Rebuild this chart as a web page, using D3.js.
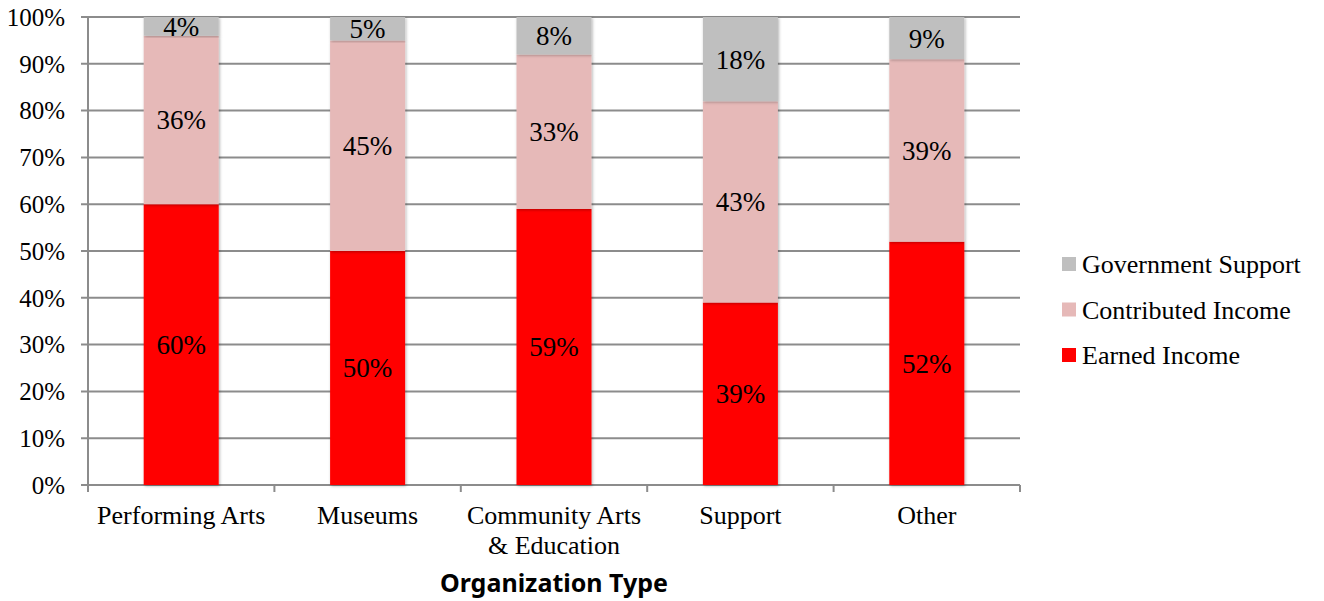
<!DOCTYPE html>
<html>
<head>
<meta charset="utf-8">
<script src="https://cdn.jsdelivr.net/npm/d3@7"></script>
<style>
  body { margin: 0; background: #fff; }
  text { fill: #000; }
</style>
</head>
<body>
<div id="chart"></div>
<script>
const categories = [["Performing Arts"], ["Museums"], ["Community Arts", "& Education"], ["Support"], ["Other"]];
const seriesNames = ["Earned Income", "Contributed Income", "Government Support"];
const earned = [60, 50, 59, 39, 52];
const contributed = [36, 45, 33, 43, 39];
const government = [4, 5, 8, 18, 9];
const yTicks = [0, 10, 20, 30, 40, 50, 60, 70, 80, 90, 100];
const colors = ["#ff0000", "#e6b9b8", "#bfbfbf"];

const width = 1324, height = 601;
const margin = {top: 17, right: 304, bottom: 116, left: 88};
const serif = "'Liberation Serif', 'DejaVu Serif', serif";

const svg = d3.select("#chart").append("svg")
    .attr("width", width)
    .attr("height", height);

const defs = svg.append("defs");
const shadow = defs.append("filter").attr("id", "shadow")
    .attr("x", "-10%").attr("y", "-10%").attr("width", "120%").attr("height", "120%");
shadow.append("feDropShadow")
    .attr("dx", 1).attr("dy", 1).attr("stdDeviation", 1.5)
    .attr("flood-color", "#000").attr("flood-opacity", 0.3);

const y = d3.scaleLinear()
    .domain([0, 100])
    .range([height - margin.bottom, margin.top]);

// gridlines
svg.append("g")
    .selectAll("line")
    .data(yTicks)
    .enter().append("line")
    .attr("x1", margin.left - 7)
    .attr("x2", width - margin.right)
    .attr("y1", d => y(d))
    .attr("y2", d => y(d))
    .style("stroke", "#8c8c8c")
    .style("stroke-width", 2);

// y axis line
svg.append("line")
    .attr("x1", margin.left).attr("x2", margin.left)
    .attr("y1", y(100)).attr("y2", y(0) + 7)
    .style("stroke", "#8c8c8c").style("stroke-width", 2);

// bottom ticks at category boundaries
const step = (width - margin.right - margin.left) / categories.length;
svg.append("g")
    .selectAll("line")
    .data(d3.range(categories.length + 1))
    .enter().append("line")
    .attr("x1", d => margin.left + d * step)
    .attr("x2", d => margin.left + d * step)
    .attr("y1", y(0))
    .attr("y2", y(0) + 7)
    .style("stroke", "#8c8c8c").style("stroke-width", 2);

// y tick labels
svg.append("g")
    .selectAll("text")
    .data(yTicks)
    .enter().append("text")
    .attr("x", margin.left - 23)
    .attr("y", d => y(d))
    .attr("dy", "0.35em")
    .attr("text-anchor", "end")
    .style("font-family", serif)
    .style("font-size", "25px")
    .text(d => d + "%");

// stack
const rows = categories.map((c, i) => ({
  i: i,
  "Earned Income": earned[i],
  "Contributed Income": contributed[i],
  "Government Support": government[i]
}));
const stacked = d3.stack().keys(seriesNames)(rows);

const bandX = i => margin.left + i * step + (step - 75) / 2;

const layers = svg.append("g").selectAll("g")
    .data(stacked)
    .enter().append("g")
    .style("fill", (d, k) => colors[k]);

layers.selectAll("rect")
    .data(d => d)
    .enter().append("rect")
    .attr("x", d => bandX(d.data.i))
    .attr("width", 75)
    .attr("y", d => y(d[1]))
    .attr("height", d => y(d[0]) - y(d[1]))
    .attr("filter", "url(#shadow)");

layers.selectAll("text")
    .data(d => d.map(p => ({p: p, key: d.key})))
    .enter().append("text")
    .attr("x", d => bandX(d.p.data.i) + 37.5)
    .attr("y", d => y((d.p[0] + d.p[1]) / 2))
    .attr("dy", "0.35em")
    .attr("text-anchor", "middle")
    .style("fill", "#000")
    .style("font-family", serif)
    .style("font-size", "27px")
    .text(d => d.p.data[d.key] + "%");

// category labels
const catText = svg.append("g")
    .selectAll("text")
    .data(categories)
    .enter().append("text")
    .attr("x", (d, i) => margin.left + i * step + step / 2)
    .attr("y", 524)
    .attr("text-anchor", "middle")
    .style("font-family", serif)
    .style("font-size", "26px");
catText.selectAll("tspan")
    .data(d => d)
    .enter().append("tspan")
    .attr("x", function() { return d3.select(this.parentNode).attr("x"); })
    .attr("dy", (d, j) => j === 0 ? 0 : 30)
    .text(d => d);

// axis title
svg.append("text")
    .attr("x", (margin.left + width - margin.right) / 2)
    .attr("y", 592)
    .attr("text-anchor", "middle")
    .style("font-family", "'Noto Sans', 'Open Sans', sans-serif")
    .style("font-weight", "bold")
    .style("font-size", "25px")
    .text("Organization Type");

// legend (reverse order)
const legendItems = seriesNames.map((n, k) => ({name: n, color: colors[k]})).reverse();
const legend = svg.append("g")
    .selectAll("g")
    .data(legendItems)
    .enter().append("g")
    .attr("transform", (d, k) => "translate(1062," + (264 + k * 45.5) + ")");
legend.append("rect")
    .attr("x", 0).attr("y", -7)
    .attr("width", 14).attr("height", 14)
    .style("fill", d => d.color);
legend.append("text")
    .attr("x", 20)
    .attr("dy", "0.35em")
    .style("font-family", serif)
    .style("font-size", "26px")
    .text(d => d.name);
</script>
</body>
</html>
